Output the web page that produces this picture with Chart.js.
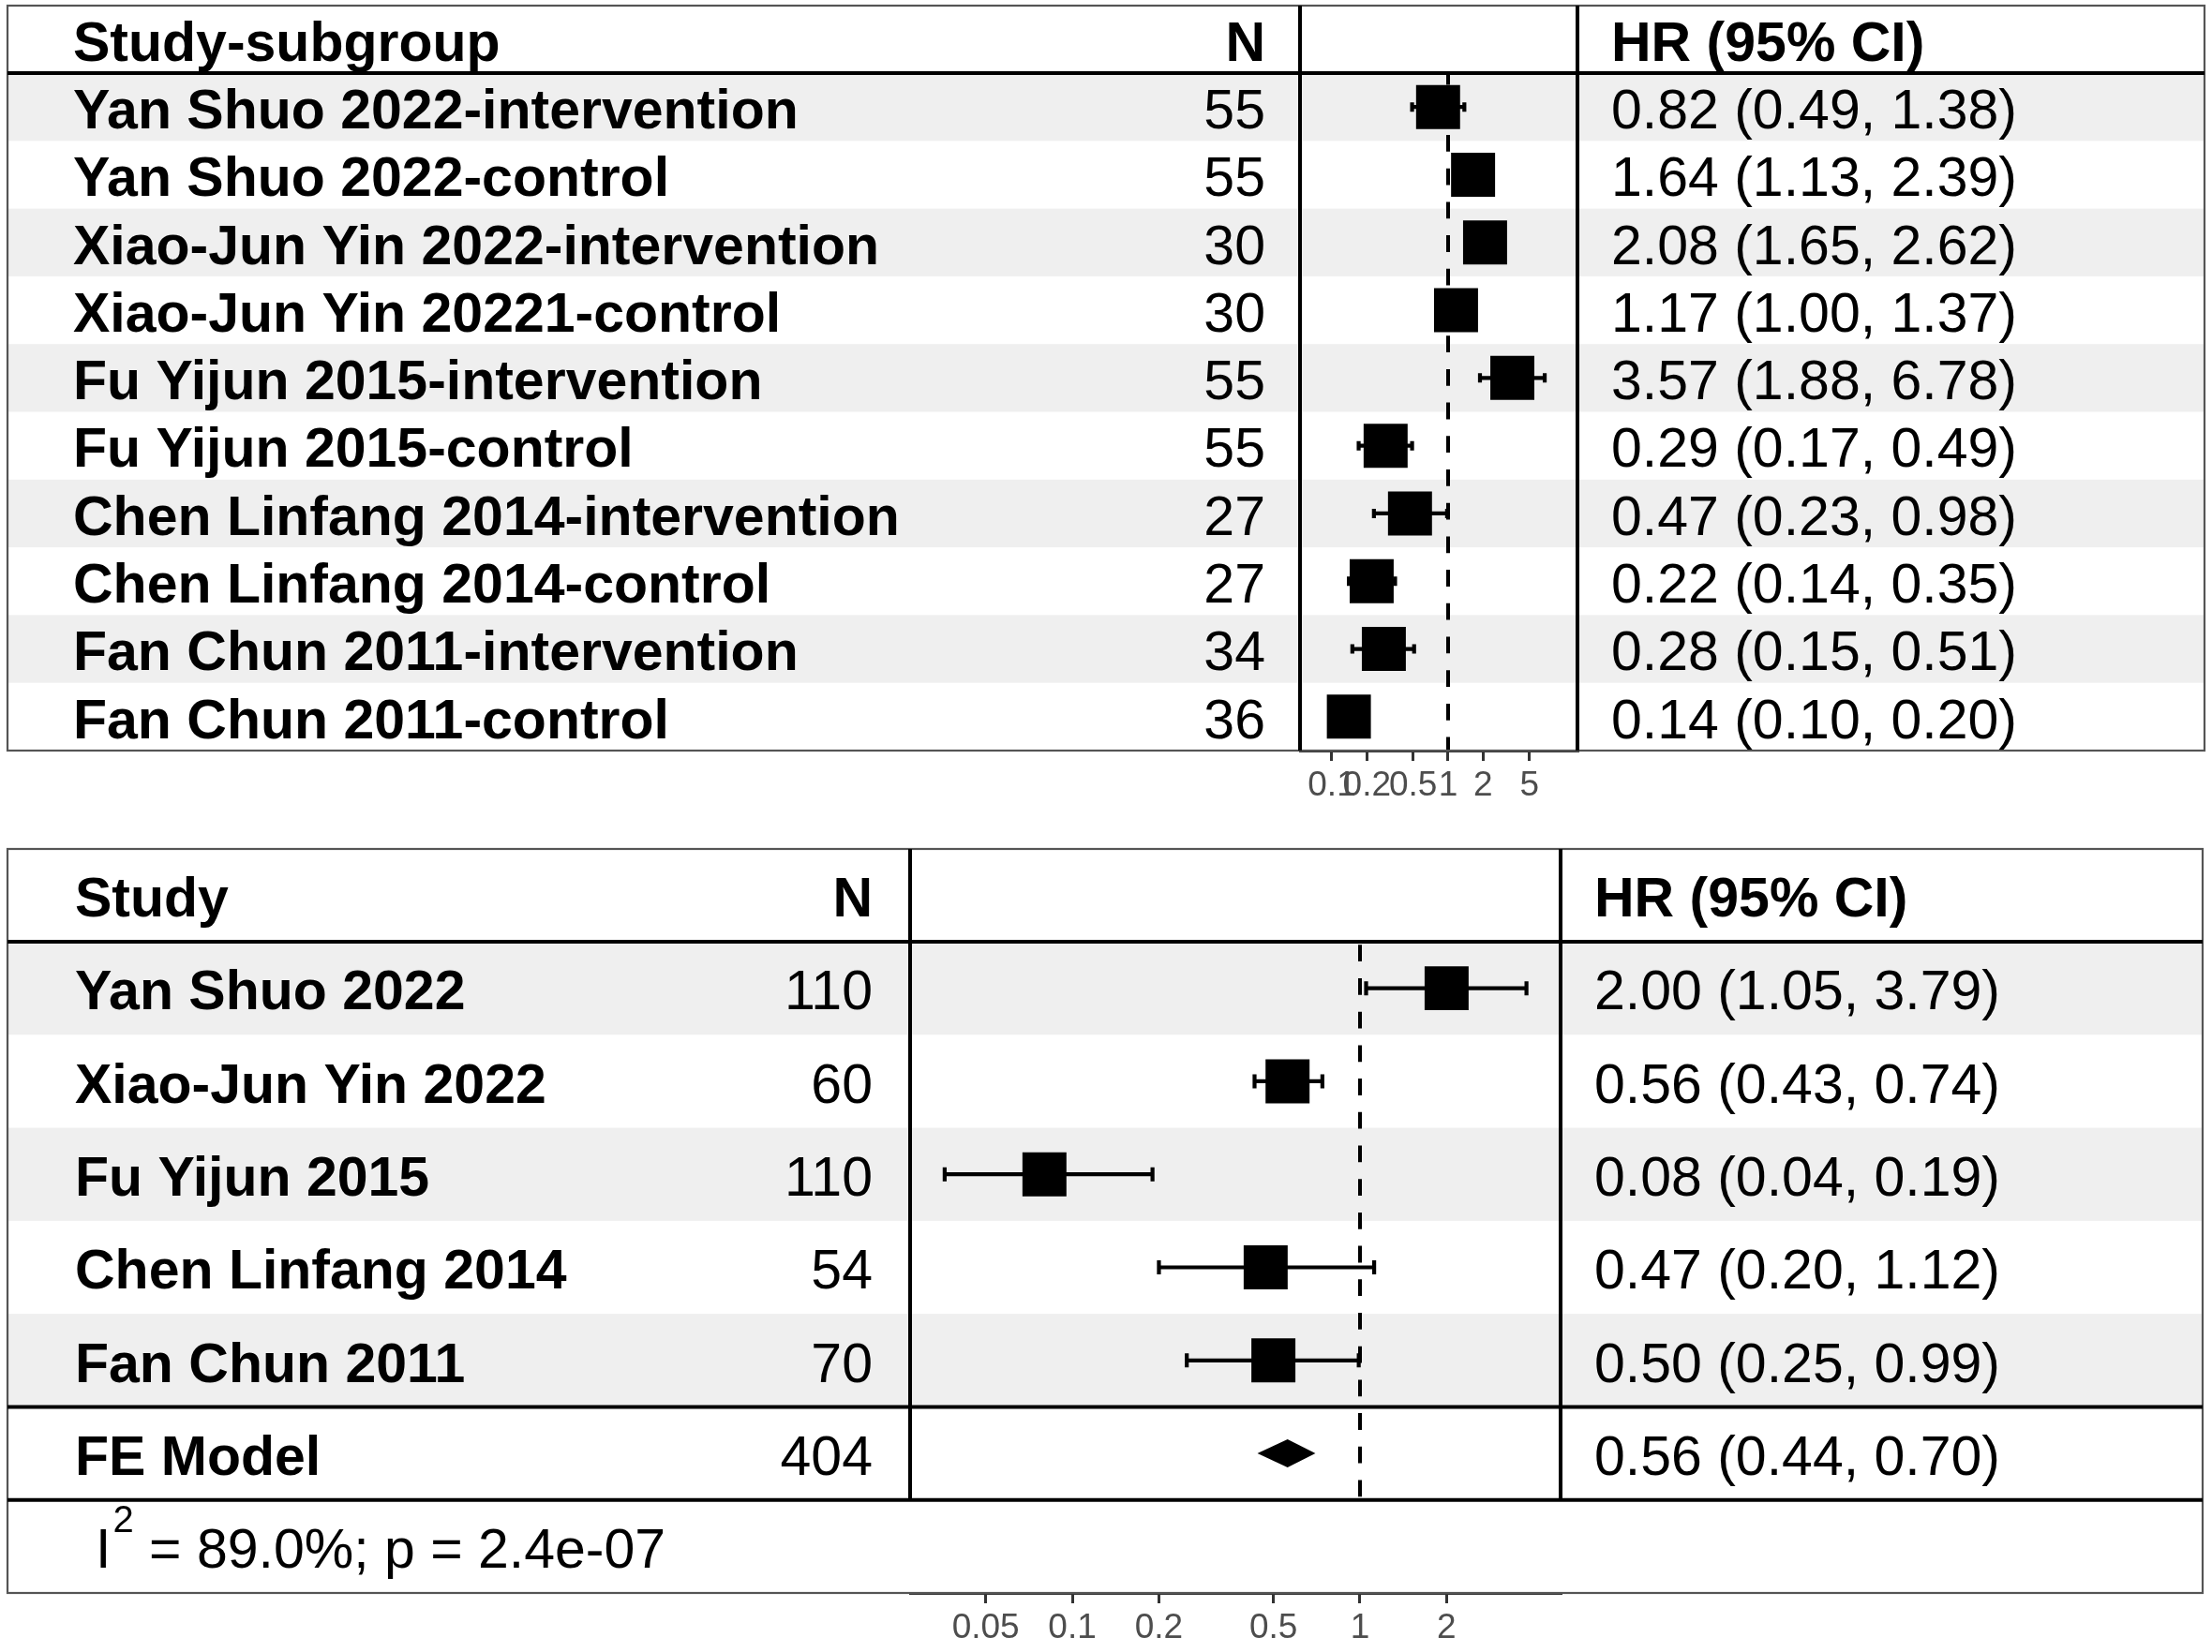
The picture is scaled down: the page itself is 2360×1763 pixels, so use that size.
<!DOCTYPE html>
<html>
<head>
<meta charset="utf-8">
<script src="https://cdn.jsdelivr.net/npm/chart.js@4.4.1/dist/chart.umd.min.js"></script>
<style>
  html, body { margin: 0; padding: 0; background: #ffffff; }
  #page { position: relative; width: 2360px; height: 1763px; }
  canvas { position: absolute; left: 0; }
</style>
</head>
<body>
<div id="page">
  <canvas id="subgroupChart" width="2360" height="880" style="top:0px"></canvas>
  <canvas id="studyChart" width="2360" height="883" style="top:880px"></canvas>
</div>
<script>
// top panel: study-subgroups
const subgroupLabels = [
  "Yan Shuo 2022-intervention",
  "Yan Shuo 2022-control",
  "Xiao-Jun Yin 2022-intervention",
  "Xiao-Jun Yin 20221-control",
  "Fu Yijun 2015-intervention",
  "Fu Yijun 2015-control",
  "Chen Linfang 2014-intervention",
  "Chen Linfang 2014-control",
  "Fan Chun 2011-intervention",
  "Fan Chun 2011-control"
];
const subgroupN = [55, 55, 30, 30, 55, 55, 27, 27, 34, 36];
const subgroupHr = [0.82, 1.64, 2.08, 1.17, 3.57, 0.29, 0.47, 0.22, 0.28, 0.14];
const subgroupLower = [0.49, 1.13, 1.65, 1.00, 1.88, 0.17, 0.23, 0.14, 0.15, 0.10];
const subgroupUpper = [1.38, 2.39, 2.62, 1.37, 6.78, 0.49, 0.98, 0.35, 0.51, 0.20];
const subgroupTicks = [0.1, 0.2, 0.5, 1, 2, 5];
const subgroupTickLabels = ["0.1", "0.2", "0.5", "1", "2", "5"];

// bottom panel: pooled per study
const studyLabels = ["Yan Shuo 2022", "Xiao-Jun Yin 2022", "Fu Yijun 2015", "Chen Linfang 2014", "Fan Chun 2011"];
const studyN = [110, 60, 110, 54, 70];
const studyHr = [2.00, 0.56, 0.08, 0.47, 0.50];
const studyLower = [1.05, 0.43, 0.036, 0.20, 0.25];
const studyUpper = [3.79, 0.74, 0.19, 1.12, 0.99];
const pooledLabel = "FE Model";
const pooledN = 404;
const pooledHr = 0.56;
const pooledLower = 0.44;
const pooledUpper = 0.70;
const heterogeneityI2 = "89.0%";
const heterogeneityP = "2.4e-07";
const studyTicks = [0.05, 0.1, 0.2, 0.5, 1, 2];
const studyTickLabels = ["0.05", "0.1", "0.2", "0.5", "1", "2"];

const refValue = 1;

const FONT = '"Liberation Sans", Arial, Helvetica, sans-serif';
const TEXT_SIZE = 59;
const SHADE = "#efefef";
const BOX_RADIUS = 33.2; // rect point -> ~47px square

function fmtCi(hr, lo, hi) {
  return hr.toFixed(2) + " (" + lo.toFixed(2) + ", " + hi.toFixed(2) + ")";
}

function tablePlugin(cfg) {
  const L = cfg.layout;
  return {
    id: "forestTable",
    beforeDatasetsDraw(chart) {
      const { ctx, chartArea } = chart;
      const x = chart.scales.x;
      const y = chart.scales.y;
      ctx.save();
      // row shading
      ctx.fillStyle = SHADE;
      cfg.rows.forEach((r, i) => {
        if (i % 2 === 0 && !r.pooled) {
          const y0 = y.getPixelForValue(i + 0.5);
          const y1 = y.getPixelForValue(i + 1.5);
          ctx.fillRect(L.tableLeft, y0, L.tableRight - L.tableLeft, y1 - y0);
        }
      });
      // reference line
      const rx = x.getPixelForValue(refValue);
      ctx.strokeStyle = "#000000";
      ctx.lineWidth = 4;
      ctx.setLineDash([17.8, 17.9]);
      ctx.lineDashOffset = L.dashOffset;
      ctx.beginPath();
      ctx.moveTo(rx, chartArea.top);
      ctx.lineTo(rx, y.getPixelForValue(cfg.rows.length + 0.5));
      ctx.stroke();
      ctx.setLineDash([]);
      // confidence intervals
      ctx.lineWidth = 4.2;
      cfg.rows.forEach((r, i) => {
        if (r.pooled) return;
        const cy = y.getPixelForValue(i + 1);
        const xl = x.getPixelForValue(r.lo);
        const xh = x.getPixelForValue(r.hi);
        ctx.beginPath();
        ctx.moveTo(xl, cy);
        ctx.lineTo(xh, cy);
        ctx.moveTo(xl, cy - L.capHalf);
        ctx.lineTo(xl, cy + L.capHalf);
        ctx.moveTo(xh, cy - L.capHalf);
        ctx.lineTo(xh, cy + L.capHalf);
        ctx.stroke();
      });
      ctx.restore();
    },
    afterDatasetsDraw(chart) {
      const { ctx, chartArea } = chart;
      const x = chart.scales.x;
      const y = chart.scales.y;
      ctx.save();
      // pooled diamond
      cfg.rows.forEach((r, i) => {
        if (!r.pooled) return;
        const cy = y.getPixelForValue(i + 1);
        ctx.fillStyle = "#000000";
        ctx.beginPath();
        ctx.moveTo(x.getPixelForValue(r.lo), cy);
        ctx.lineTo(x.getPixelForValue(r.hr), cy - 15);
        ctx.lineTo(x.getPixelForValue(r.hi), cy);
        ctx.lineTo(x.getPixelForValue(r.hr), cy + 15);
        ctx.closePath();
        ctx.fill();
      });

      const rowsBottom = y.getPixelForValue(cfg.rows.length + 0.5);
      const boxBottom = chartArea.bottom;

      // outer frame
      ctx.strokeStyle = "#555555";
      ctx.lineWidth = 2.2;
      ctx.strokeRect(L.tableLeft, L.tableTop, L.tableRight - L.tableLeft, boxBottom - L.tableTop);

      // heavy rules
      ctx.strokeStyle = "#000000";
      ctx.lineWidth = 4;
      ctx.beginPath();
      ctx.moveTo(L.tableLeft, chartArea.top);
      ctx.lineTo(L.tableRight, chartArea.top);
      cfg.rows.forEach((r, i) => {
        if (r.pooled) {
          const a = y.getPixelForValue(i + 0.5);
          const b = y.getPixelForValue(i + 1.5);
          ctx.moveTo(L.tableLeft, a);
          ctx.lineTo(L.tableRight, a);
          ctx.moveTo(L.tableLeft, b);
          ctx.lineTo(L.tableRight, b);
        }
      });
      ctx.moveTo(chartArea.left, L.tableTop);
      ctx.lineTo(chartArea.left, rowsBottom);
      ctx.moveTo(chartArea.right, L.tableTop);
      ctx.lineTo(chartArea.right, rowsBottom);
      ctx.stroke();

      // text
      ctx.fillStyle = "#000000";
      ctx.textBaseline = "middle";
      const hy = y.getPixelForValue(0) + L.textShift;
      ctx.font = "bold " + TEXT_SIZE + "px " + FONT;
      ctx.textAlign = "left";
      ctx.fillText(cfg.headers[0], L.labelX, hy);
      ctx.textAlign = "right";
      ctx.fillText(cfg.headers[1], L.nX, hy);
      ctx.textAlign = "left";
      ctx.fillText(cfg.headers[2], L.hrX, hy);

      cfg.rows.forEach((r, i) => {
        const cy = y.getPixelForValue(i + 1) + L.textShift;
        ctx.font = "bold " + TEXT_SIZE + "px " + FONT;
        ctx.textAlign = "left";
        ctx.fillText(r.label, L.labelX, cy);
        ctx.font = TEXT_SIZE + "px " + FONT;
        ctx.textAlign = "right";
        ctx.fillText(String(r.n), L.nX, cy);
        ctx.textAlign = "left";
        ctx.fillText(fmtCi(r.hr, r.lo, r.hi), L.hrX, cy);
      });

      if (cfg.note) {
        const ny = y.getPixelForValue(cfg.rows.length + 1) + L.textShift;
        ctx.textAlign = "left";
        ctx.font = TEXT_SIZE + "px " + FONT;
        let nx = L.noteX;
        ctx.fillText("I", nx, ny);
        nx += ctx.measureText("I").width + 2;
        ctx.font = "40px " + FONT;
        ctx.fillText("2", nx, ny - 33);
        nx += ctx.measureText("2").width;
        ctx.font = TEXT_SIZE + "px " + FONT;
        ctx.fillText(cfg.note, nx, ny);
      }
      ctx.restore();
    }
  };
}

function buildForest(id, cfg) {
  const canvas = document.getElementById(id);
  const L = cfg.layout;
  const boxRows = [];
  cfg.rows.forEach((r, i) => {
    if (!r.pooled) boxRows.push({ x: r.hr, y: i + 1 });
  });

  new Chart(canvas, {
    type: "scatter",
    data: {
      datasets: [{
        data: boxRows,
        pointStyle: "rect",
        pointRadius: BOX_RADIUS,
        pointHoverRadius: BOX_RADIUS,
        backgroundColor: "#000000",
        borderWidth: 0,
        clip: false
      }]
    },
    options: {
      responsive: false,
      animation: false,
      devicePixelRatio: 1,
      events: [],
      layout: {
        padding: { left: L.plotLeft, right: canvas.width - L.plotRight, top: L.plotTop, bottom: 0 }
      },
      plugins: {
        legend: { display: false },
        tooltip: { enabled: false }
      },
      scales: {
        x: {
          type: "logarithmic",
          position: "bottom",
          min: cfg.xMin,
          max: cfg.xMax,
          afterBuildTicks: (scale) => {
            scale.ticks = cfg.ticks.map((v) => ({ value: v }));
          },
          afterFit: (scale) => {
            scale.height = L.axisHeight;
          },
          grid: { drawOnChartArea: false, drawTicks: true, tickLength: 11, color: "#333333", lineWidth: 3 },
          border: { display: true, color: "#333333", width: 3 },
          ticks: {
            autoSkip: false,
            maxRotation: 0,
            minRotation: 0,
            padding: 5,
            color: "#4d4d4d",
            font: { family: FONT, size: 37 },
            callback: (value, index) => cfg.tickLabels[index]
          }
        },
        y: {
          type: "linear",
          display: false,
          reverse: true,
          min: 0.5,
          max: cfg.rowSlots + 0.5
        }
      }
    },
    plugins: [tablePlugin(cfg)]
  });
}

const subgroupRows = subgroupLabels.map((label, i) => ({
  label, n: subgroupN[i], hr: subgroupHr[i], lo: subgroupLower[i], hi: subgroupUpper[i]
}));

const studyRows = studyLabels.map((label, i) => ({
  label, n: studyN[i], hr: studyHr[i], lo: studyLower[i], hi: studyUpper[i]
}));
studyRows.push({ label: pooledLabel, n: pooledN, hr: pooledHr, lo: pooledLower, hi: pooledUpper, pooled: true });

buildForest("subgroupChart", {
  rows: subgroupRows,
  rowSlots: subgroupRows.length,
  headers: ["Study-subgroup", "N", "HR (95% CI)"],
  ticks: subgroupTicks,
  tickLabels: subgroupTickLabels,
  xMin: 0.0532,
  xMax: 12.97,
  layout: {
    tableLeft: 8, tableRight: 2352, tableTop: 6,
    plotLeft: 1387, plotRight: 1683, plotTop: 78, axisHeight: 79,
    labelX: 78, nX: 1350, hrX: 1719, capHalf: 5, dashOffset: 5.4, textShift: 6.5
  }
});

buildForest("studyChart", {
  rows: studyRows,
  rowSlots: studyRows.length + 1,
  headers: ["Study", "N", "HR (95% CI)"],
  note: " = " + heterogeneityI2 + "; p = " + heterogeneityP,
  ticks: studyTicks,
  tickLabels: studyTickLabels,
  xMin: 0.0273,
  xMax: 4.98,
  layout: {
    tableLeft: 8, tableRight: 2350, tableTop: 26,
    plotLeft: 971, plotRight: 1665, plotTop: 125, axisHeight: 63,
    labelX: 80, nX: 931, hrX: 1701, noteX: 102, capHalf: 7.5, dashOffset: -3.3, textShift: 6.5
  }
});
</script>
</body>
</html>
